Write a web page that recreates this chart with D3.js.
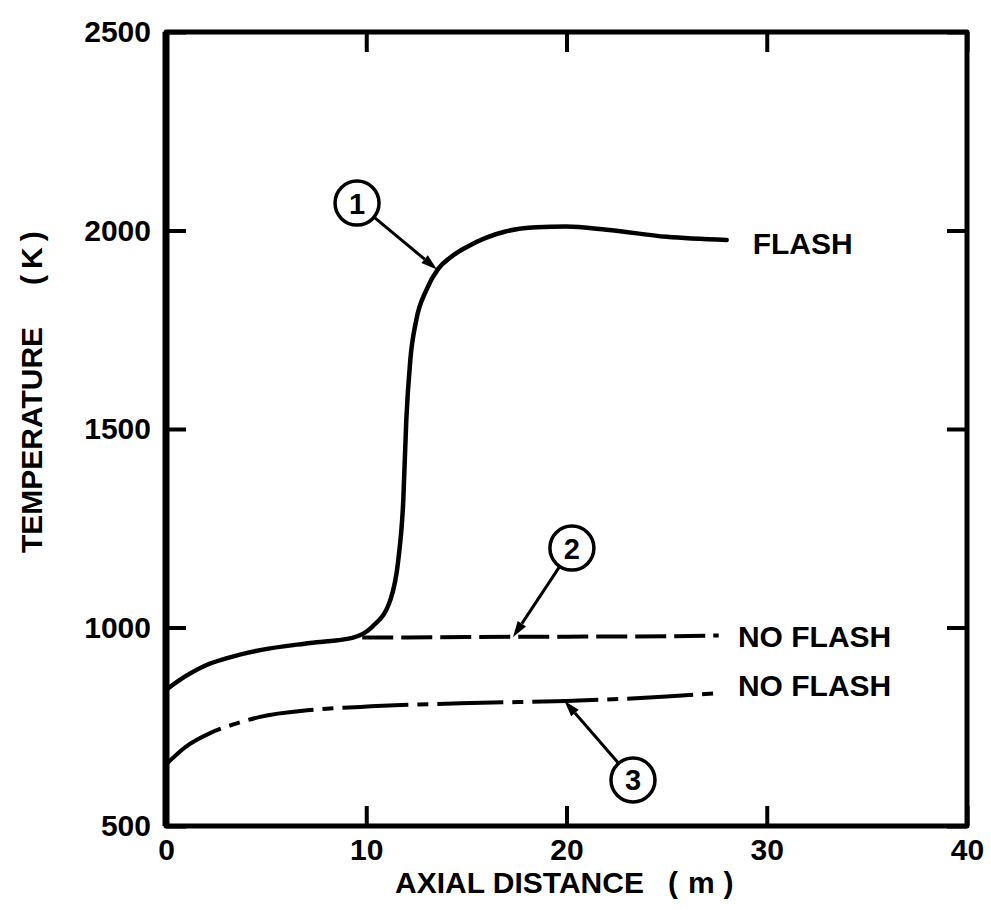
<!DOCTYPE html>
<html>
<head>
<meta charset="utf-8">
<script src="https://cdn.jsdelivr.net/npm/d3@7"></script>
<style>
  body { margin: 0; background: #fff; }
  text { font-family: "Liberation Sans", Arial, sans-serif; font-weight: bold; fill: #000; }
</style>
</head>
<body>
<svg width="991" height="910"></svg>
<script>
// axial distance (m) and temperature (K)
const flashX = [0, 1, 2, 3, 4.7, 7.2, 9.3, 10.3, 11.2, 11.6, 11.85, 12.0, 12.2, 12.5, 13.0, 13.6, 14.2, 15.0, 16.0, 17.0, 18.5, 20, 22, 25, 28];
const flashT = [843, 878, 905, 922, 943, 961, 974, 1002, 1069, 1170, 1321, 1523, 1674, 1775, 1850, 1904, 1932, 1958, 1982, 1998, 2008, 2010, 2002, 1984, 1976];

const noFlash2X = [9.8, 12, 15, 20, 25, 27.6];
const noFlash2T = [975, 975, 976, 977, 978, 980];

const noFlash3X = [0, 1, 2.2, 3.5, 4.7, 7.2, 9.7, 14.7, 20, 25, 27.6];
const noFlash3T = [655, 700, 734, 758, 775, 792, 800, 809, 815, 826, 835];

const xTicks = [0, 10, 20, 30, 40];
const yTicks = [500, 1000, 1500, 2000, 2500];

// callouts: number, circle centre, arrow tip (data units)
const calloutLabels = ["1", "2", "3"];
const calloutCentre = [[9.54, 2069], [20.27, 1200], [23.32, 616]];
const calloutTip = [[13.53, 1902], [17.33, 976], [19.9, 815]];

// curve end labels
const endLabels = ["FLASH", "NO FLASH", "NO FLASH"];
const endLabelPos = [[29.3, 1969], [28.56, 979], [28.56, 855]];

const svg = d3.select("svg");

const x = d3.scaleLinear().domain([0, 40]).range([166, 967]);
const y = d3.scaleLinear().domain([500, 2500]).range([826, 32]);

const toPoints = (xs, ts) => xs.map((v, i) => ({x: v, t: ts[i]}));

// axes, ticks pointing inward
const axisGroup = svg.append("g").attr("id", "axes");

function styleAxis(g, labels) {
    g.select(".domain").remove();
    g.selectAll(".tick line").attr("stroke", "#000").attr("stroke-width", 4);
    g.selectAll(".tick text")
        .attr("font-size", 30)
        .attr("font-family", "'Liberation Sans', Arial, sans-serif")
        .attr("font-weight", "bold");
    if (!labels) g.selectAll(".tick text").remove();
}

const fmt = d3.format("d");

axisGroup.append("g")
    .attr("transform", `translate(0,${y(500)})`)
    .call(d3.axisBottom(x).tickValues(xTicks).tickFormat(fmt).tickSizeInner(-20).tickSizeOuter(0).tickPadding(13))
    .call(g => styleAxis(g, true));

axisGroup.append("g")
    .attr("transform", `translate(0,${y(2500)})`)
    .call(d3.axisTop(x).tickValues(xTicks).tickSizeInner(-20).tickSizeOuter(0))
    .call(g => styleAxis(g, false));

axisGroup.append("g")
    .attr("transform", `translate(${x(0)},0)`)
    .call(d3.axisLeft(y).tickValues(yTicks).tickFormat(fmt).tickSizeInner(-20).tickSizeOuter(0).tickPadding(15))
    .call(g => styleAxis(g, true));

axisGroup.append("g")
    .attr("transform", `translate(${x(40)},0)`)
    .call(d3.axisRight(y).tickValues(yTicks).tickSizeInner(-20).tickSizeOuter(0))
    .call(g => styleAxis(g, false));

// frame
axisGroup.append("path")
    .attr("fill", "none")
    .attr("stroke", "#000")
    .attr("stroke-width", 5)
    .attr("stroke-linejoin", "round")
    .attr("d", () => {
        const p = d3.path();
        p.moveTo(x(0), y(2500));
        p.lineTo(x(40), y(2500));
        p.lineTo(x(40), y(500));
        p.lineTo(x(0), y(500));
        p.closePath();
        return p.toString();
    });
axisGroup.append("line")
    .attr("x1", x(0)).attr("x2", x(0))
    .attr("y1", y(2500)).attr("y2", y(500))
    .attr("stroke", "#000").attr("stroke-width", 7);

// axis titles
svg.append("text")
    .attr("x", 395).attr("y", 893)
    .attr("font-size", 30)
    .call(t => {
        t.append("tspan").text("AXIAL DISTANCE");
        t.append("tspan").attr("dx", 24).text("(");
        t.append("tspan").attr("dx", 10).text("m");
        t.append("tspan").attr("dx", 9).text(")");
    });

svg.append("text")
    .attr("transform", "translate(42,553) rotate(-90)")
    .attr("font-size", 30)
    .call(t => {
        t.append("tspan").text("TEMPERATURE");
        t.append("tspan").attr("dx", 42).text("(");
        t.append("tspan").attr("dx", 6).text("K");
        t.append("tspan").attr("dx", 6).text(")");
    });

// curves
const line = d3.line()
    .x(d => x(d.x))
    .y(d => y(d.t))
    .curve(d3.curveMonotoneX);

const curveGroup = svg.append("g")
    .attr("id", "curves")
    .attr("fill", "none")
    .attr("stroke", "#000")
    .attr("stroke-linejoin", "round");

curveGroup.append("path")
    .datum(toPoints(noFlash2X, noFlash2T))
    .attr("stroke-width", 4)
    .attr("stroke-dasharray", "31 8")
    .attr("d", line);

curveGroup.append("path")
    .datum(toPoints(noFlash3X, noFlash3T))
    .attr("stroke-width", 4)
    .attr("stroke-dasharray", "66 9 11 9")
    .attr("d", line);

curveGroup.append("path")
    .datum(toPoints(flashX, flashT))
    .attr("stroke-width", 4.5)
    .attr("stroke-linecap", "round")
    .attr("d", line);

// callouts
const r = 22;
const calloutGroup = svg.append("g").attr("id", "callouts");

calloutLabels.forEach((lab, i) => {
    const cx = x(calloutCentre[i][0]), cy = y(calloutCentre[i][1]);
    const tx = x(calloutTip[i][0]), ty = y(calloutTip[i][1]);
    const len = Math.hypot(tx - cx, ty - cy);
    const ux = (tx - cx) / len, uy = (ty - cy) / len;
    const head = 16, half = 5;

    calloutGroup.append("circle")
        .attr("cx", cx).attr("cy", cy).attr("r", r)
        .attr("fill", "#fff").attr("stroke", "#000").attr("stroke-width", 3.5);

    calloutGroup.append("text")
        .attr("x", cx).attr("y", cy)
        .attr("text-anchor", "middle")
        .attr("dy", "0.36em")
        .attr("font-size", 29)
        .text(lab);

    calloutGroup.append("line")
        .attr("x1", cx + ux * r).attr("y1", cy + uy * r)
        .attr("x2", tx - ux * head).attr("y2", ty - uy * head)
        .attr("stroke", "#000").attr("stroke-width", 3);

    calloutGroup.append("path")
        .attr("fill", "#000")
        .attr("d", () => {
            const p = d3.path();
            const bx = tx - ux * head, by = ty - uy * head;
            p.moveTo(tx, ty);
            p.lineTo(bx - uy * half, by + ux * half);
            p.lineTo(bx + uy * half, by - ux * half);
            p.closePath();
            return p.toString();
        });
});

// labels at curve ends
svg.append("g").attr("id", "end-labels")
    .selectAll("text")
    .data(endLabels)
    .enter().append("text")
    .attr("x", (d, i) => x(endLabelPos[i][0]))
    .attr("y", (d, i) => y(endLabelPos[i][1]))
    .attr("dy", "0.36em")
    .attr("font-size", 30)
    .text(d => d);
</script>
</body>
</html>
